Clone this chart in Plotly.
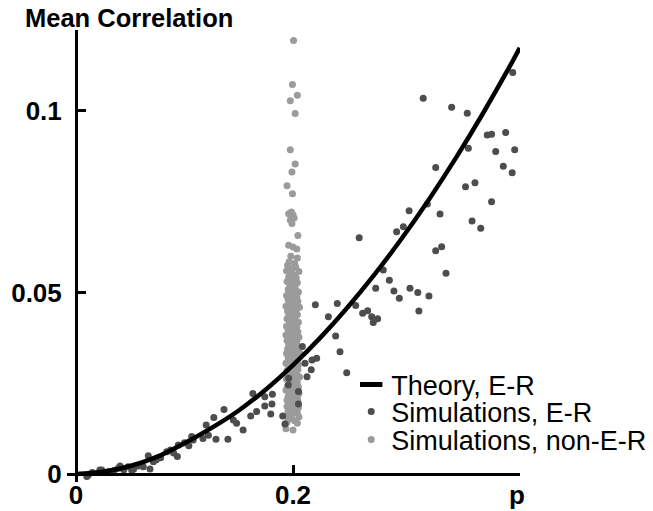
import plotly.graph_objects as go

# ---------------- data ----------------
theory_p = [0, 0.025, 0.05, 0.075, 0.1, 0.125, 0.15, 0.175, 0.2, 0.225, 0.25,
            0.275, 0.3, 0.325, 0.35, 0.375, 0.4, 0.409]
theory_v = [0, 0.0006, 0.0022, 0.0048, 0.0085, 0.0127, 0.0175, 0.0233, 0.0300,
            0.0375, 0.0458, 0.0549, 0.0648, 0.0755, 0.0870, 0.0993, 0.1124, 0.1174]

er_p = [0.010, 0.0113, 0.015, 0.022, 0.0237, 0.030, 0.035, 0.039, 0.0406, 0.044,
        0.048, 0.0513, 0.053, 0.057, 0.062, 0.0666, 0.0682, 0.0713, 0.074, 0.078,
        0.0836, 0.087, 0.090, 0.0943, 0.0934, 0.100, 0.104, 0.1066, 0.108,
        0.117, 0.120, 0.122, 0.127, 0.129, 0.1364, 0.140, 0.145, 0.148, 0.154,
        0.161, 0.163, 0.1665, 0.174, 0.174, 0.1795, 0.1806, 0.181, 0.1905, 0.1926,
        0.1957, 0.196, 0.205, 0.205,
        0.2086, 0.2129, 0.2168, 0.2175, 0.211, 0.2206, 0.2218, 0.2326, 0.2393,
        0.2408, 0.2433, 0.2495, 0.2578, 0.261, 0.2642, 0.2688, 0.2725, 0.274,
        0.278, 0.2762, 0.2832, 0.2888, 0.293, 0.298, 0.2955, 0.3017, 0.307,
        0.3078, 0.315, 0.316, 0.320, 0.3238, 0.3253, 0.3315, 0.3315, 0.337,
        0.3355, 0.341, 0.3462, 0.359, 0.3606, 0.3616, 0.365, 0.3677, 0.373,
        0.379, 0.383, 0.383, 0.3868, 0.3938, 0.396, 0.402, 0.4025, 0.4043]
er_v = [-0.0007, -0.0003, 0.0004, 0.0011, 0.0011, 0.0006, 0.0010, 0.0016, 0.0022, 0.0012,
        0.0020, 0.0011, 0.0013, 0.0022, 0.0020, 0.0050, 0.0014, 0.0034, 0.0039, 0.0045,
        0.0061, 0.0066, 0.0058, 0.0080, 0.0048, 0.0086, 0.0078, 0.0103, 0.0094,
        0.0098, 0.0135, 0.0107, 0.0156, 0.0096, 0.0178, 0.0096, 0.0149, 0.0140, 0.0121,
        0.0160, 0.0222, 0.0172, 0.0213, 0.0187, 0.0165, 0.0193, 0.0220, 0.0160, 0.0138,
        0.0245, 0.0264, 0.0227, 0.0193,
        0.0351, 0.0268, 0.0287, 0.0314, 0.0305, 0.0466, 0.0319, 0.0433, 0.0380,
        0.0470, 0.0337, 0.0279, 0.0464, 0.0651, 0.0443, 0.0450, 0.0433, 0.0417,
        0.0428, 0.0512, 0.0562, 0.0534, 0.0504, 0.0484, 0.0667, 0.0681, 0.0725,
        0.0512, 0.0500, 0.0449, 0.1035, 0.0744, 0.0490, 0.0615, 0.0844, 0.0626,
        0.0716, 0.0553, 0.1010, 0.0791, 0.0994, 0.0897, 0.0697, 0.0802, 0.0677,
        0.0934, 0.0936, 0.0750, 0.0888, 0.0848, 0.0941, 0.0830, 0.1106, 0.0893]

ner_p = [0.2005, 0.1995, 0.2040, 0.1975, 0.2020, 0.1975, 0.2020, 0.1990, 0.1945, 0.1995,
         0.1960, 0.1985, 0.2000, 0.1975, 0.2010, 0.1990,
         0.2045, 0.1960, 0.2000, 0.2035, 0.1980, 0.2040, 0.1965, 0.2015,
         0.1950, 0.2025, 0.1990, 0.1940, 0.2055, 0.1975, 0.2010, 0.1960, 0.2030,
         0.1985, 0.1945, 0.2040, 0.2000, 0.1970, 0.2020, 0.1955, 0.1995, 0.2050,
         0.1965, 0.2015, 0.1940, 0.2035, 0.1985, 0.2005, 0.1955, 0.2045, 0.1975,
         0.2025, 0.1995, 0.1935, 0.2060, 0.1970, 0.2010, 0.1950, 0.2030, 0.1990,
         0.2040, 0.1960, 0.2000, 0.1945, 0.2020, 0.1980, 0.2050, 0.1965, 0.2015,
         0.1940, 0.2035, 0.1990,
         0.1955, 0.2005, 0.2045, 0.1975, 0.2025, 0.1935, 0.1995, 0.2055, 0.1965,
         0.2015, 0.1945, 0.2035, 0.1985, 0.2010, 0.1960, 0.2040, 0.1975, 0.2000,
         0.1950, 0.2030, 0.1990, 0.2060, 0.1940, 0.2020, 0.1970, 0.2005, 0.1955,
         0.2045, 0.1985, 0.2025, 0.1965, 0.1935, 0.2010, 0.2050, 0.1980,
         0.1960, 0.2020, 0.1995, 0.2045, 0.1945, 0.2010, 0.1975, 0.2035, 0.1955,
         0.2000, 0.2060, 0.1985, 0.1940, 0.2025, 0.1970, 0.2040, 0.1990, 0.2015,
         0.1950, 0.2050, 0.1980, 0.2005, 0.1935, 0.2030, 0.1965, 0.2055, 0.1995,
         0.2020, 0.1955, 0.2040, 0.1975, 0.2010, 0.1945, 0.2045, 0.1990,
         0.1960, 0.2030, 0.2000, 0.1945, 0.2050, 0.1980, 0.2020, 0.1955, 0.2040,
         0.1990, 0.1940, 0.2055, 0.1970, 0.2015, 0.1945, 0.2040, 0.1935, 0.2000]
ner_v = [0.1194, 0.1073, 0.1043, 0.1028, 0.0993, 0.0893, 0.0854, 0.0832, 0.0794, 0.0772,
         0.0717, 0.0722, 0.0714, 0.0700, 0.0705, 0.0690,
         0.0657, 0.0630, 0.0625, 0.0620, 0.0600, 0.0595, 0.0585, 0.0580,
         0.0575, 0.0570, 0.0565, 0.0560, 0.0558, 0.0552, 0.0548, 0.0543, 0.0540,
         0.0535, 0.0530, 0.0527, 0.0522, 0.0517, 0.0512, 0.0508, 0.0504, 0.0501,
         0.0498, 0.0495, 0.0492, 0.0489, 0.0486, 0.0482, 0.0479, 0.0476, 0.0472,
         0.0469, 0.0466, 0.0462, 0.0459, 0.0456, 0.0452, 0.0449, 0.0446, 0.0442,
         0.0439, 0.0435, 0.0432, 0.0428, 0.0425, 0.0421, 0.0418, 0.0414, 0.0411,
         0.0407, 0.0404, 0.0401,
         0.0398, 0.0395, 0.0392, 0.0389, 0.0386, 0.0383, 0.0380, 0.0377, 0.0374,
         0.0371, 0.0368, 0.0365, 0.0362, 0.0359, 0.0356, 0.0353, 0.0350, 0.0347,
         0.0344, 0.0341, 0.0338, 0.0335, 0.0332, 0.0329, 0.0326, 0.0323, 0.0320,
         0.0317, 0.0314, 0.0311, 0.0308, 0.0305, 0.0303, 0.0301, 0.0300,
         0.0297, 0.0294, 0.0291, 0.0288, 0.0285, 0.0282, 0.0279, 0.0276, 0.0273,
         0.0270, 0.0267, 0.0264, 0.0261, 0.0258, 0.0255, 0.0252, 0.0249, 0.0246,
         0.0243, 0.0240, 0.0237, 0.0234, 0.0231, 0.0228, 0.0225, 0.0222, 0.0219,
         0.0216, 0.0213, 0.0210, 0.0207, 0.0205, 0.0203, 0.0201, 0.0200,
         0.0197, 0.0194, 0.0190, 0.0186, 0.0183, 0.0180, 0.0176, 0.0172, 0.0168,
         0.0164, 0.0160, 0.0157, 0.0152, 0.0147, 0.0142, 0.0140, 0.0125, 0.0121]

x_tickvals = [0, 0.2]
x_ticktext = ["0", "0.2"]
y_tickvals = [0, 0.05, 0.1]
y_ticktext = ["0", "0.05", "0.1"]
series_names = ["Theory, E-R", "Simulations, E-R", "Simulations, non-E-R"]
y_title = "Mean Correlation"
x_title = "p"

# ---------------- styling ----------------
FONT = "Liberation Sans, Arial, sans-serif"
DARK = "#4d4d4d"
LIGHT = "#9b9b9b"
X_RANGE = [-0.0083, 0.4092]
Y_RANGE = [-0.0022, 0.1223]

fig = go.Figure()
fig.add_trace(go.Scatter(x=ner_p, y=ner_v, mode="markers", name=series_names[2],
                         marker=dict(size=7, color=LIGHT), legend="legend3"))
fig.add_trace(go.Scatter(x=er_p, y=er_v, mode="markers", name=series_names[1],
                         marker=dict(size=7, color=DARK), legend="legend2"))
fig.add_trace(go.Scatter(x=theory_p, y=theory_v, mode="lines", name=series_names[0],
                         line=dict(color="black", width=4.5, shape="spline"),
                         showlegend=False))
# legend-only key for the theory line (short thick bar)
fig.add_trace(go.Scatter(x=[None], y=[None], mode="markers", name=series_names[0],
                         marker=dict(symbol="line-ew", size=18, color="black",
                                     line=dict(width=5, color="black")),
                         legend="legend"))

tickfont = dict(family=FONT, size=26, color="black", weight="bold")
legfont = dict(family=FONT, size=27, color="black")

def leg(y):
    return dict(x=0.6274, y=y, xanchor="left", yanchor="middle", bgcolor="rgba(0,0,0,0)",
                borderwidth=0, font=legfont)

fig.update_layout(
    width=653, height=511,
    margin=dict(l=59, r=141, t=22, b=37, autoexpand=False),
    plot_bgcolor="white", paper_bgcolor="white",
    xaxis=dict(range=X_RANGE, showgrid=False, zeroline=False, showline=True,
               linecolor="black", linewidth=3, anchor="free", automargin=False,
               position=(0 - Y_RANGE[0]) / (Y_RANGE[1] - Y_RANGE[0]),
               ticks="inside", ticklen=8, tickwidth=3, tickcolor="black",
               tickvals=x_tickvals, ticktext=x_ticktext, tickfont=tickfont,
               ticklabelstandoff=-3),
    yaxis=dict(range=Y_RANGE, showgrid=False, zeroline=False, showline=True,
               linecolor="black", linewidth=3, anchor="free", automargin=False,
               position=(0 - X_RANGE[0]) / (X_RANGE[1] - X_RANGE[0]),
               ticks="inside", ticklen=8, tickwidth=3, tickcolor="black",
               tickvals=y_tickvals, ticktext=y_ticktext, tickfont=tickfont,
               ticklabelstandoff=8),
    legend=leg(0.2146),
    legend2=leg(0.1549),
    legend3=leg(0.0929),
    annotations=[
        dict(text=y_title, xref="paper", yref="paper", x=-0.097, y=1.0265,
             xanchor="left", yanchor="middle", showarrow=False,
             font=dict(family=FONT, size=25.5, color="black", weight="bold")),
        dict(text=x_title, xref="paper", yref="paper", x=0.993, y=-0.029,
             xanchor="center", yanchor="middle", showarrow=False,
             font=tickfont),
    ],
)

fig.write_html("out.html")
